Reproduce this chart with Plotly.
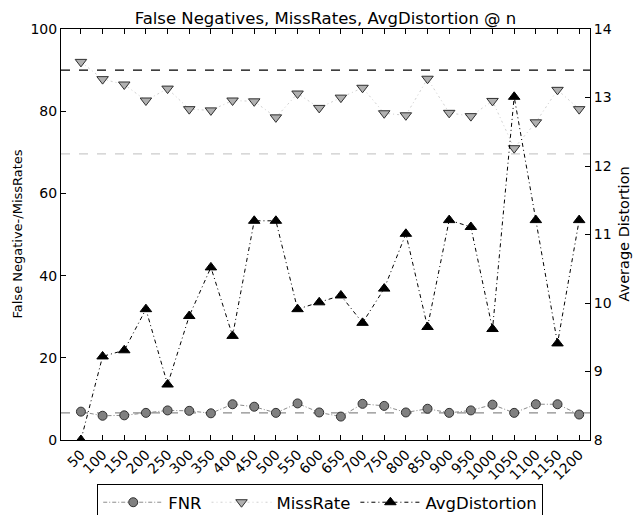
import plotly.graph_objects as go

n_values = [50, 100, 150, 200, 250, 300, 350, 400, 450, 500, 550, 600,
            650, 700, 750, 800, 850, 900, 950, 1000, 1050, 1100, 1150, 1200]
tick_labels = [str(v) for v in n_values]

fnr = [6.9, 5.9, 6.0, 6.6, 7.2, 7.1, 6.5, 8.7, 8.1, 6.6, 8.9, 6.7,
       5.7, 8.8, 8.3, 6.7, 7.6, 6.6, 7.2, 8.6, 6.6, 8.7, 8.7, 6.2]
miss_rate = [92.0, 87.8, 86.5, 82.6, 85.5, 80.5, 80.2, 82.6, 82.4, 78.5, 84.3, 80.8,
             83.3, 85.7, 79.5, 79.0, 87.9, 79.6, 78.8, 82.5, 71.0, 77.3, 85.2, 80.5]
avg_distortion = [8.0, 9.22, 9.31, 9.91, 8.81, 9.81, 10.52, 9.52, 11.2, 11.2, 9.91, 10.01,
                  10.11, 9.71, 10.21, 11.01, 9.65, 11.21, 11.11, 9.62, 13.01, 11.21, 9.41, 11.21]

# reference lines (left axis values)
ref_black = [90.0]
ref_light = [69.6]
ref_fnr = [6.6]

FONT = "DejaVu Sans"

# page body has an 8px margin, so the figure is sized to fit the window
W, H = 633, 507
ML, MT, MR, MB = 53, 21, 51, 75
PW = W - ML - MR
PH = H - MT - MB

fig = go.Figure()

fig.add_trace(go.Scatter(
    x=n_values, y=fnr, name="FNR", mode="lines+markers",
    line=dict(color="#8c8c8c", width=1, dash="4px,2px,1px,2px"),
    marker=dict(symbol="circle", size=9, color="#808080",
                line=dict(color="#303030", width=1)),
    yaxis="y"))

fig.add_trace(go.Scatter(
    x=n_values, y=miss_rate, name="MissRate", mode="lines+markers",
    line=dict(color="#d0d0d0", width=1, dash="2px,3px,1px,3px"),
    marker=dict(symbol="triangle-down", size=10, color="#b0b0b0",
                line=dict(color="#303030", width=1)),
    yaxis="y"))

fig.add_trace(go.Scatter(
    x=n_values, y=avg_distortion, name="AvgDistortion", mode="lines+markers",
    line=dict(color="black", width=1, dash="4px,3px,1px,3px"),
    marker=dict(symbol="triangle-up", size=10, color="black",
                line=dict(color="black", width=1)),
    yaxis="y2"))

for val, col, dash in [(ref_black[0], "black", "dash"),
                       (ref_light[0], "#cccccc", "dash"),
                       (ref_fnr[0], "#8c8c8c", "dash")]:
    fig.add_shape(type="line", xref="paper", x0=0, x1=1, yref="y", y0=val, y1=val,
                  line=dict(color=col, width=1.2, dash=dash), layer="below")

fig.add_annotation(text="False Negative-/MissRates", xref="paper", yref="paper",
                   x=(9 - ML) / PW, y=0.5, xanchor="center", yanchor="middle",
                   textangle=-90, showarrow=False, font=dict(family=FONT, size=13))
fig.add_annotation(text="Average Distortion", xref="paper", yref="paper",
                   x=(615 - ML) / PW, y=0.5, xanchor="center", yanchor="middle",
                   textangle=-90, showarrow=False, font=dict(family=FONT, size=14.5))

fig.update_layout(
    width=W, height=H,
    margin=dict(l=ML, r=MR, t=MT, b=MB, autoexpand=False),
    paper_bgcolor="white", plot_bgcolor="white",
    font=dict(family=FONT, size=14, color="black"),
    title=dict(text="False Negatives, MissRates, AvgDistortion @ n",
               x=0.5, xref="paper", xanchor="center",
               y=1 - 10 / H, yanchor="middle",
               font=dict(family=FONT, size=16.5)),
    showlegend=True,
    legend=dict(orientation="h", x=0.49, xanchor="center", xref="paper",
                y=-44 / PH, yanchor="top",
                bordercolor="black", borderwidth=1,
                font=dict(family=FONT, size=16.5),
                itemwidth=60, tracegroupgap=0),
    xaxis=dict(
        range=[4, 1225], tickmode="array", tickvals=n_values, ticktext=tick_labels,
        tickangle=-45, ticks="inside", ticklen=5, tickcolor="black",
        showline=True, linecolor="black", linewidth=1, mirror="ticks",
        showgrid=False, zeroline=False, tickfont=dict(size=14), automargin=False),
    yaxis=dict(
        range=[0, 100], tickvals=[0, 20, 40, 60, 80, 100],
        ticks="inside", ticklen=5, tickcolor="black",
        showline=True, linecolor="black", linewidth=1,
        showgrid=False, zeroline=False, automargin=False,
        tickfont=dict(size=14)),
    yaxis2=dict(
        range=[8, 14], tickvals=[8, 9, 10, 11, 12, 13, 14],
        overlaying="y", side="right",
        ticks="inside", ticklen=5, tickcolor="black",
        showline=True, linecolor="black", linewidth=1,
        showgrid=False, zeroline=False, automargin=False,
        tickfont=dict(size=14)),
)

fig.write_html("out.html")
